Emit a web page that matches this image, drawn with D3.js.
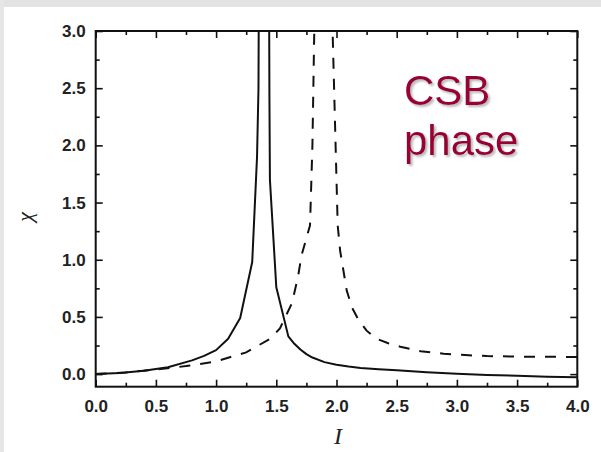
<!DOCTYPE html>
<html>
<head>
<meta charset="utf-8">
<script src="https://cdn.jsdelivr.net/npm/d3@7"></script>
<style>
  html, body { margin: 0; padding: 0; background: #fff; }
  svg { display: block; }
</style>
</head>
<body>
<svg id="chart" width="601" height="452"></svg>
<script>
// ---- data ----
const xTicks = [0, 0.5, 1.0, 1.5, 2.0, 2.5, 3.0, 3.5, 4.0];
const yTicks = [0, 0.5, 1.0, 1.5, 2.0, 2.5, 3.0];
const solidI   = [0, 0.2, 0.4, 0.6, 0.8, 0.9, 1.0, 1.1, 1.2, 1.3, 1.34, 1.352, 1.355, 1.44, 1.443, 1.447, 1.5, 1.6, 1.65, 1.7, 1.75, 1.8, 1.9, 2.0, 2.1, 2.2, 2.35, 2.5, 2.75, 3.0, 3.25, 3.5, 3.75, 4.0];
const solidChi = [0.0, 0.01, 0.03, 0.06, 0.12, 0.16, 0.21, 0.31, 0.49, 0.98, 1.9, 2.5, 3.3, 3.3, 2.4, 1.7, 0.76, 0.33, 0.265, 0.215, 0.175, 0.145, 0.105, 0.082, 0.066, 0.054, 0.043, 0.034, 0.016, 0.003, -0.007, -0.015, -0.022, -0.028];
const dashI    = [0, 0.25, 0.5, 0.75, 1.0, 1.12, 1.25, 1.35, 1.45, 1.53, 1.63, 1.68, 1.71, 1.78, 1.80, 1.82, 1.96, 2.01, 2.03, 2.085, 2.13, 2.18, 2.25, 2.33, 2.43, 2.53, 2.7, 2.89, 3.1, 3.25, 3.6, 4.0];
const dashChi  = [0.0, 0.015, 0.04, 0.07, 0.11, 0.15, 0.19, 0.25, 0.31, 0.40, 0.62, 0.85, 1.04, 1.3, 2.0, 3.3, 3.3, 1.3, 1.08, 0.73, 0.58, 0.48, 0.38, 0.31, 0.27, 0.24, 0.20, 0.178, 0.165, 0.158, 0.152, 0.15];
const annotation = ["CSB", "phase"];
const xLabel = "I";
const yLabel = "χ";

// ---- layout ----
const svg = d3.select("#chart");
const L = 95.7, R = 577.3, T = 31, B = 386.7;
const x = d3.scaleLinear().domain([0, 4]).range([L, R]);
const y = d3.scaleLinear().domain([-0.11, 3.0]).range([B, T]);

// background texture strips
svg.append("rect").attr("x", 0).attr("y", 0).attr("width", 601).attr("height", 452).attr("fill", "#ffffff");
svg.append("rect").attr("x", 0).attr("y", 0).attr("width", 601).attr("height", 7).attr("fill", "#e3e3e3");
svg.append("rect").attr("x", 0).attr("y", 0).attr("width", 4).attr("height", 452).attr("fill", "#e6e6e6");

const defs = svg.append("defs");
defs.append("clipPath").attr("id", "clip")
  .append("rect").attr("x", L).attr("y", T).attr("width", R - L).attr("height", B - T);
defs.append("filter").attr("id", "shadow").attr("x", "-10%").attr("y", "-10%").attr("width", "130%").attr("height", "130%")
  .append("feDropShadow").attr("dx", 2).attr("dy", 2).attr("stdDeviation", 1.2)
  .attr("flood-color", "#999").attr("flood-opacity", 0.7);

// lines
const line = d3.line().x(d => x(d[0])).y(d => y(d[1]));
const g = svg.append("g").attr("clip-path", "url(#clip)");
g.append("path").datum(solidI.map((v, i) => [v, solidChi[i]]))
  .attr("d", line).attr("fill", "none").attr("stroke", "#111").attr("stroke-width", 2)
  .attr("stroke-linejoin", "round");
g.append("path").datum(dashI.map((v, i) => [v, dashChi[i]]))
  .attr("d", line).attr("fill", "none").attr("stroke", "#111").attr("stroke-width", 2)
  .attr("stroke-dasharray", "11,10");

// axes (ticks inward on all four sides)
const minorX = d3.range(0.25, 4, 0.5);
const minorY = d3.range(0.25, 3, 0.5);
const fontTick = "'Liberation Sans', Arial, sans-serif";

svg.append("g").attr("transform", `translate(0,${B})`)
  .call(d3.axisBottom(x).tickValues(xTicks).tickSizeInner(-7).tickSizeOuter(0).tickPadding(13).tickFormat(d3.format(".1f")));
svg.append("g").attr("transform", `translate(0,${B})`)
  .call(d3.axisBottom(x).tickValues(minorX).tickSizeInner(-4).tickSizeOuter(0).tickFormat(""));
svg.append("g").attr("transform", `translate(0,${T})`)
  .call(d3.axisTop(x).tickValues(xTicks).tickSizeInner(-7).tickSizeOuter(0).tickFormat(""));
svg.append("g").attr("transform", `translate(0,${T})`)
  .call(d3.axisTop(x).tickValues(minorX).tickSizeInner(-4).tickSizeOuter(0).tickFormat(""));
svg.append("g").attr("transform", `translate(${L},0)`)
  .call(d3.axisLeft(y).tickValues(yTicks).tickSizeInner(-7).tickSizeOuter(0).tickPadding(10).tickFormat(d3.format(".1f")));
svg.append("g").attr("transform", `translate(${L},0)`)
  .call(d3.axisLeft(y).tickValues(minorY).tickSizeInner(-4).tickSizeOuter(0).tickFormat(""));
svg.append("g").attr("transform", `translate(${R},0)`)
  .call(d3.axisRight(y).tickValues(yTicks).tickSizeInner(-7).tickSizeOuter(0).tickFormat(""));
svg.append("g").attr("transform", `translate(${R},0)`)
  .call(d3.axisRight(y).tickValues(minorY).tickSizeInner(-4).tickSizeOuter(0).tickFormat(""));

svg.selectAll(".domain").remove();
svg.selectAll(".tick line").attr("stroke", "#111").attr("stroke-width", 1.6);
svg.selectAll(".tick text").attr("font-family", fontTick).attr("font-weight", "bold")
  .attr("font-size", 17).attr("fill", "#222");

// frame
svg.append("rect").attr("x", L).attr("y", T).attr("width", R - L).attr("height", B - T)
  .attr("fill", "none").attr("stroke", "#111").attr("stroke-width", 2);

// axis titles
svg.append("text").attr("x", 338).attr("y", 444).attr("text-anchor", "middle")
  .attr("font-family", "'Liberation Serif', 'DejaVu Serif', serif").attr("font-style", "italic")
  .attr("font-size", 24).attr("fill", "#222").text(xLabel);
svg.append("text").attr("transform", "translate(32,217) rotate(-90)").attr("text-anchor", "middle")
  .attr("font-family", "'Liberation Serif', 'DejaVu Serif', serif").attr("font-style", "italic")
  .attr("font-size", 22).attr("fill", "#222").text(yLabel);

// annotation with drop shadow
const ann = svg.append("g");
annotation.forEach((t, i) => {
  ann.append("text").attr("x", 404).attr("y", 105 + i * 50).attr("filter", "url(#shadow)")
    .attr("font-family", "'Liberation Sans', Arial, sans-serif").attr("font-size", 42)
    .attr("fill", "#990036").text(t);
});
</script>
</body>
</html>
